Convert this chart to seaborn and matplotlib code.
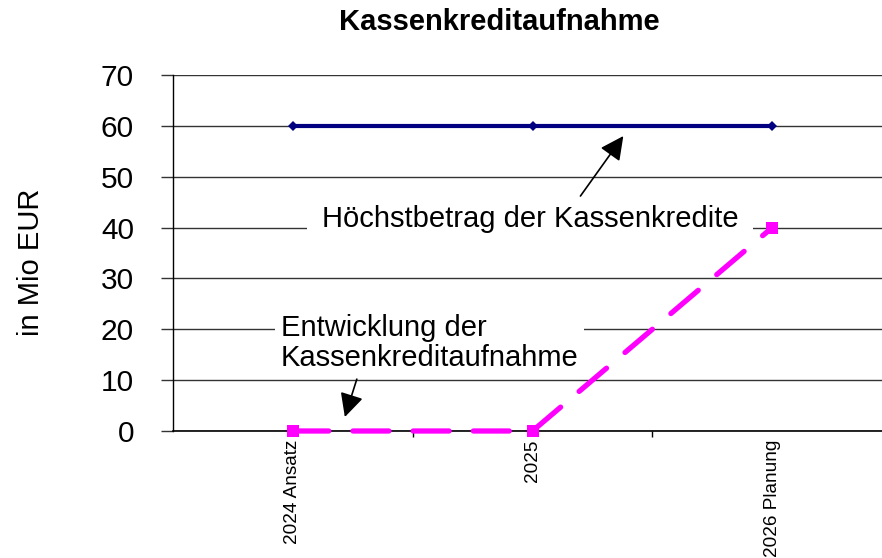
import matplotlib
matplotlib.use("Agg")
import matplotlib.pyplot as plt
import seaborn as sns
import pandas as pd

categories = ["2024 Ansatz", "2025", "2026 Planung"]
hoechstbetrag = [60, 60, 60]
kassenkredit = [0, 0, 40]
yticks = [0, 10, 20, 30, 40, 50, 60, 70]

sns.set_theme(style="white")
plt.rcParams["font.family"] = ["Liberation Sans", "DejaVu Sans"]
plt.rcParams["text.color"] = "black"
plt.rcParams["axes.labelcolor"] = "black"
plt.rcParams["xtick.color"] = "black"
plt.rcParams["ytick.color"] = "black"

fig = plt.figure(figsize=(8.82, 5.58), dpi=100)
ax = fig.add_axes([173/882, 1-431/558, (892-173)/882, (431-75)/558])

df1 = pd.DataFrame({"Jahr": categories, "Wert": hoechstbetrag})
df2 = pd.DataFrame({"Jahr": categories, "Wert": kassenkredit})

sns.lineplot(data=df1, x="Jahr", y="Wert", ax=ax, color="#000080", lw=3,
             marker="D", markersize=5, markeredgewidth=0, zorder=3)
sns.lineplot(data=df2, x="Jahr", y="Wert", ax=ax, color="#FF00FF", lw=3.8,
             marker="s", markersize=8.5, markeredgewidth=0, zorder=4,
             clip_on=False)
ax.lines[1].set_dashes([6.8, 4.6])
ax.lines[1].set_dash_capstyle("round")

ax.set_xlim(-0.5, 2.5)
ax.set_ylim(0, 70)
ax.set_yticks(yticks)
ax.set_yticklabels([str(v) for v in yticks])
ax.set_xticks([0.5, 1.5], minor=False)
ax.set_xticks([0, 1, 2], minor=True)
ax.set_xticklabels([])
ax.set_xticklabels(categories, minor=True, rotation=90)
ax.tick_params(axis="x", which="minor", length=0, pad=6, labelsize=13.7)
ax.tick_params(axis="x", which="major", length=4, width=1, color="black", direction="out")
ax.tick_params(axis="y", length=9, width=1, color="#333333", direction="out",
               pad=19, labelsize=21.5)
ax.xaxis.set_ticks_position("bottom")
ax.yaxis.set_ticks_position("left")

ax.grid(axis="y", color="#333333", lw=1)
ax.set_axisbelow(True)
for s in ["top", "right"]:
    ax.spines[s].set_visible(False)
ax.spines["left"].set_color("black")
ax.spines["left"].set_linewidth(1)
ax.spines["bottom"].set_color("black")
ax.spines["bottom"].set_linewidth(1.2)
ax.spines["bottom"].set_zorder(2)

ax.set_xlabel("")
ax.set_ylabel("in Mio EUR", fontsize=21)
ax.yaxis.set_label_coords(-0.178, 0.475)

fig.text(0.566, 1-22/558, "Kassenkreditaufnahme", ha="center", va="center",
         fontsize=21, fontweight="bold")

# annotation texts
ax.text(0.99, 41.6, "Höchstbetrag der Kassenkredite", ha="center", va="center",
        fontsize=21, zorder=5,
        bbox=dict(boxstyle="square,pad=0.5", fc="white", ec="none"))
ax.text(-0.05, 17.3, "Entwicklung der\nKassenkreditaufnahme", ha="left", va="center",
        fontsize=21, zorder=5, linespacing=1.1,
        bbox=dict(boxstyle="square,pad=0.2", fc="white", ec="none"))

arrow_kw = dict(arrowstyle="-|>,head_length=0.9,head_width=0.45", color="black",
                lw=1.2, shrinkA=0, shrinkB=0, mutation_scale=16)
ax.annotate("", xy=(1.379, 58.0), xytext=(1.2, 46.2), arrowprops=arrow_kw, zorder=6)
ax.annotate("", xy=(0.217, 2.75), xytext=(0.267, 10.2), arrowprops=arrow_kw, zorder=6)

fig.savefig("out.png", dpi=100)
